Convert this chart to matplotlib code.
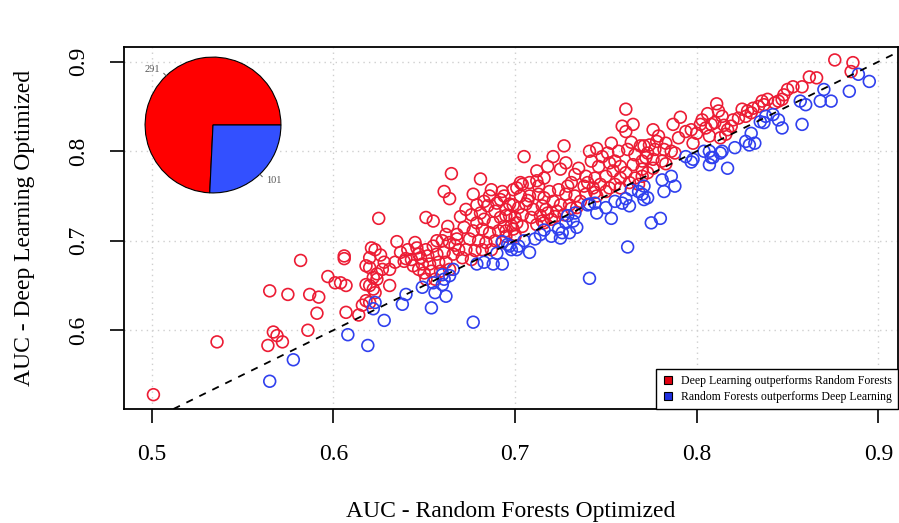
import matplotlib
matplotlib.use("Agg")
import matplotlib.pyplot as plt
from matplotlib.lines import Line2D
import numpy as np

# (AUC Random Forests, AUC Deep Learning) pairs where Deep Learning wins
red_auc = [
    (0.501, 0.528), (0.536, 0.587), (0.565, 0.644), (0.567, 0.598), (0.569, 0.594),
    (0.572, 0.587), (0.564, 0.583), (0.575, 0.640), (0.582, 0.678), (0.587, 0.640),
    (0.592, 0.637), (0.591, 0.619), (0.586, 0.600), (0.597, 0.660), (0.601, 0.653),
    (0.604, 0.653), (0.607, 0.650), (0.606, 0.683), (0.606, 0.680), (0.607, 0.620),
    (0.614, 0.617), (0.625, 0.725),
    (0.621, 0.692), (0.620, 0.681), (0.618, 0.672), (0.620, 0.670), (0.624, 0.663),
    (0.622, 0.659), (0.618, 0.651), (0.620, 0.650), (0.623, 0.642), (0.618, 0.633),
    (0.620, 0.631), (0.631, 0.668), (0.631, 0.650), (0.616, 0.628), (0.623, 0.690),
    (0.624, 0.657), (0.622, 0.646), (0.635, 0.699), (0.626, 0.684), (0.628, 0.676),
    (0.637, 0.687), (0.641, 0.690), (0.646, 0.692), (0.651, 0.690), (0.655, 0.694),
    (0.660, 0.700), (0.664, 0.698), (0.639, 0.677), (0.643, 0.679), (0.648, 0.681),
    (0.652, 0.683), (0.657, 0.685), (0.661, 0.687), (0.666, 0.685), (0.644, 0.672),
    (0.649, 0.674), (0.653, 0.674), (0.658, 0.676), (0.662, 0.676), (0.650, 0.664),
    (0.654, 0.666), (0.659, 0.666), (0.664, 0.668), (0.651, 0.657), (0.656, 0.657),
    (0.651, 0.726), (0.655, 0.722), (0.663, 0.716), (0.661, 0.755), (0.664, 0.747),
    (0.665, 0.775), (0.645, 0.698), (0.668, 0.707), (0.667, 0.695), (0.647, 0.668),
    (0.673, 0.735), (0.676, 0.729), (0.681, 0.731), (0.685, 0.739), (0.690, 0.742),
    (0.695, 0.735), (0.699, 0.740), (0.683, 0.724), (0.688, 0.720), (0.692, 0.726),
    (0.697, 0.728), (0.701, 0.720), (0.672, 0.715), (0.677, 0.711), (0.682, 0.713),
    (0.686, 0.709), (0.691, 0.711), (0.695, 0.711), (0.700, 0.707), (0.675, 0.702),
    (0.680, 0.700), (0.684, 0.698), (0.689, 0.700), (0.693, 0.698), (0.673, 0.690),
    (0.678, 0.689), (0.682, 0.690), (0.687, 0.690), (0.671, 0.681), (0.676, 0.679),
    (0.668, 0.702), (0.669, 0.690),
    (0.686, 0.750), (0.692, 0.746), (0.687, 0.757), (0.693, 0.755), (0.701, 0.759),
    (0.703, 0.765), (0.681, 0.769), (0.677, 0.752), (0.683, 0.744), (0.670, 0.727),
    (0.679, 0.720), (0.698, 0.717),
    (0.694, 0.750), (0.699, 0.757), (0.704, 0.763), (0.708, 0.765), (0.713, 0.761),
    (0.703, 0.750), (0.708, 0.750), (0.713, 0.752), (0.697, 0.741), (0.702, 0.737),
    (0.706, 0.741), (0.710, 0.735), (0.715, 0.739), (0.695, 0.728), (0.700, 0.726),
    (0.704, 0.729), (0.709, 0.726), (0.714, 0.728), (0.694, 0.716), (0.699, 0.713),
    (0.704, 0.716), (0.712, 0.718), (0.716, 0.720), (0.695, 0.705), (0.700, 0.705),
    (0.705, 0.794), (0.712, 0.778), (0.712, 0.767), (0.721, 0.794),
    (0.719, 0.755), (0.724, 0.757), (0.728, 0.752), (0.733, 0.750), (0.736, 0.744),
    (0.721, 0.744), (0.725, 0.740), (0.730, 0.740), (0.734, 0.737), (0.717, 0.735),
    (0.718, 0.731), (0.723, 0.733), (0.727, 0.729), (0.731, 0.736), (0.715, 0.722),
    (0.720, 0.724), (0.722, 0.727),
    (0.728, 0.787), (0.725, 0.780), (0.733, 0.774), (0.742, 0.789), (0.746, 0.783),
    (0.752, 0.787), (0.755, 0.789), (0.758, 0.783), (0.754, 0.778), (0.750, 0.772),
    (0.761, 0.776), (0.766, 0.796), (0.770, 0.789), (0.771, 0.806), (0.761, 0.822),
    (0.739, 0.772), (0.744, 0.770), (0.738, 0.761), (0.743, 0.759), (0.747, 0.763),
    (0.752, 0.759), (0.755, 0.763), (0.758, 0.759), (0.763, 0.765), (0.766, 0.770),
    (0.768, 0.763), (0.770, 0.772), (0.739, 0.752), (0.744, 0.754), (0.750, 0.755),
    (0.727, 0.806), (0.751, 0.798), (0.753, 0.809), (0.762, 0.802), (0.764, 0.810),
    (0.769, 0.806), (0.773, 0.798), (0.777, 0.802), (0.779, 0.817), (0.788, 0.798),
    (0.798, 0.809), (0.807, 0.817), (0.741, 0.800),
    (0.761, 0.847), (0.759, 0.828), (0.765, 0.830), (0.776, 0.824), (0.787, 0.830),
    (0.791, 0.838), (0.797, 0.824), (0.802, 0.830), (0.803, 0.835),
    (0.811, 0.853), (0.812, 0.845), (0.814, 0.839), (0.816, 0.819), (0.817, 0.824),
    (0.819, 0.828), (0.820, 0.835), (0.823, 0.837), (0.827, 0.839), (0.825, 0.847),
    (0.828, 0.845), (0.831, 0.848), (0.834, 0.850), (0.836, 0.856), (0.839, 0.858),
    (0.845, 0.856), (0.847, 0.858), (0.848, 0.863), (0.850, 0.869), (0.853, 0.872),
    (0.858, 0.872), (0.862, 0.883), (0.866, 0.882), (0.876, 0.902), (0.886, 0.899),
    (0.885, 0.889),
    (0.806, 0.842), (0.810, 0.832), (0.815, 0.829), (0.830, 0.843), (0.837, 0.852),
    (0.843, 0.854), (0.813, 0.815),
    (0.774, 0.807), (0.778, 0.811), (0.783, 0.809), (0.782, 0.802), (0.786, 0.800),
    (0.772, 0.793), (0.776, 0.791), (0.781, 0.789), (0.783, 0.786), (0.770, 0.780),
    (0.776, 0.781), (0.773, 0.776),
    (0.716, 0.770), (0.718, 0.783), (0.731, 0.765), (0.735, 0.781), (0.748, 0.794),
    (0.757, 0.800), (0.745, 0.803), (0.790, 0.815), (0.794, 0.822), (0.800, 0.820),
    (0.805, 0.826), (0.808, 0.830), (0.765, 0.785), (0.758, 0.770), (0.740, 0.765),
    (0.729, 0.761), (0.707, 0.745), (0.689, 0.733), (0.679, 0.740), (0.662, 0.707),
    (0.657, 0.700), (0.647, 0.685), (0.640, 0.680), (0.634, 0.676), (0.627, 0.668),
    (0.716, 0.748), (0.745, 0.750),
]

# pairs where Random Forests wins
blue_auc = [
    (0.565, 0.543), (0.578, 0.567), (0.608, 0.595), (0.619, 0.583), (0.622, 0.624),
    (0.628, 0.611), (0.638, 0.629), (0.640, 0.640), (0.654, 0.625), (0.656, 0.642),
    (0.662, 0.638), (0.660, 0.651), (0.655, 0.653), (0.661, 0.657), (0.664, 0.661),
    (0.666, 0.668), (0.660, 0.662), (0.677, 0.609), (0.679, 0.674), (0.683, 0.676),
    (0.688, 0.674), (0.693, 0.674), (0.697, 0.694), (0.701, 0.690), (0.693, 0.699),
    (0.696, 0.696), (0.698, 0.690), (0.708, 0.687), (0.711, 0.702), (0.714, 0.707),
    (0.720, 0.705), (0.725, 0.703), (0.730, 0.709), (0.732, 0.722), (0.734, 0.715),
    (0.728, 0.720), (0.724, 0.713), (0.733, 0.731), (0.741, 0.658), (0.741, 0.741),
    (0.745, 0.731), (0.750, 0.737), (0.753, 0.725), (0.755, 0.744), (0.759, 0.742),
    (0.763, 0.739), (0.761, 0.747), (0.764, 0.757), (0.768, 0.755), (0.771, 0.746),
    (0.762, 0.693), (0.775, 0.720), (0.780, 0.725), (0.771, 0.761), (0.770, 0.752),
    (0.773, 0.748), (0.781, 0.768), (0.786, 0.772), (0.788, 0.761), (0.782, 0.755),
    (0.794, 0.794), (0.798, 0.791), (0.804, 0.800), (0.807, 0.800), (0.809, 0.793),
    (0.807, 0.785), (0.814, 0.800), (0.821, 0.804), (0.817, 0.781), (0.827, 0.811),
    (0.830, 0.820), (0.829, 0.807), (0.832, 0.809), (0.835, 0.833), (0.838, 0.839),
    (0.842, 0.841), (0.845, 0.835), (0.847, 0.826), (0.837, 0.832), (0.858, 0.830),
    (0.857, 0.856), (0.860, 0.852), (0.868, 0.856), (0.874, 0.856), (0.870, 0.869),
    (0.884, 0.867), (0.889, 0.886), (0.895, 0.878), (0.726, 0.709), (0.729, 0.728),
    (0.740, 0.740), (0.744, 0.742), (0.702, 0.694), (0.705, 0.700), (0.716, 0.712),
    (0.797, 0.788), (0.813, 0.798), (0.808, 0.793), (0.690, 0.686), (0.623, 0.631),
    (0.649, 0.648),
]

pie_counts = [291, 101]
pie_labels = ["291", "101"]
x_ticks = [0.5, 0.6, 0.7, 0.8, 0.9]
y_ticks = [0.6, 0.7, 0.8, 0.9]
legend_labels = ["Deep Learning outperforms Random Forests",
                 "Random Forests outperforms Deep Learning"]

RED = "#EC1C34"
BLUE = "#3040EE"

plt.rcParams["font.family"] = ["Liberation Serif", "DejaVu Serif"]

W, H = 899, 523
fig = plt.figure(figsize=(W / 100, H / 100), dpi=100)
ax = fig.add_axes([124 / W, 1 - 409 / H, (898 - 124) / W, (409 - 46.7) / H])
ax.set_xlim(0.4848, 0.9108)
ax.set_ylim(0.512, 0.9168)

grid_kw = dict(color="#cfcfcf", lw=1.0, ls=(0, (1, 3)), zorder=0)
for v in x_ticks:
    ax.axvline(v, **grid_kw)
for v in y_ticks:
    ax.axhline(v, **grid_kw)

rx, ry = zip(*red_auc)
bx, by = zip(*blue_auc)
ax.scatter(rx, ry, s=72, facecolors="none", edgecolors=RED, linewidths=1.2, zorder=2)
ax.scatter(bx, by, s=72, facecolors="none", edgecolors=BLUE, linewidths=1.2, zorder=2)
ax.axline((0.5, 0.5), slope=1, color="black", lw=1.3, ls=(0, (4, 4)), zorder=3)

ax.set_xticks(x_ticks)
ax.set_xticklabels([f"{v:.1f}" for v in x_ticks])
ax.set_yticks(y_ticks)
ax.set_yticklabels([f"{v:.1f}" for v in y_ticks])
ax.tick_params(length=10, width=1.2, labelsize=17, pad=15, colors="black")
ax.tick_params(axis="y", labelrotation=90)
for lbl in ax.get_yticklabels():
    lbl.set_va("center")
for sp in ax.spines.values():
    sp.set_linewidth(1.3)

fig.text(511 / W, 1 - 511 / H, "AUC - Random Forests Optimized",
         ha="center", va="center", fontsize=17)
fig.text(25 / W, 1 - 228 / H, "AUC - Deep Learning Optimized",
         ha="center", va="center", rotation=90, fontsize=17)

handles = [Line2D([], [], ls="none", marker="s", markersize=6,
                  markerfacecolor="#E00010", markeredgecolor="black", markeredgewidth=0.8),
           Line2D([], [], ls="none", marker="s", markersize=6,
                  markerfacecolor="#2030E0", markeredgecolor="black", markeredgewidth=0.8)]
leg = ax.legend(handles, legend_labels, loc="lower right", bbox_to_anchor=(1.0, 0.0),
                borderaxespad=0, fontsize=8.5, frameon=True, fancybox=False,
                edgecolor="black", framealpha=1, handlelength=1.0, handletextpad=0.6,
                borderpad=0.5, labelspacing=0.35)
leg.get_frame().set_linewidth(1.0)
leg.set_zorder(5)

# pie inset
ax_in = fig.add_axes([141 / W, 1 - 197 / H, 144 / W, 144 / H])
ax_in.set_facecolor("white")
for sp in ax_in.spines.values():
    sp.set_visible(False)
ax_in.set_xticks([])
ax_in.set_yticks([])
ax_in.pie(pie_counts, colors=["#FF0000", "#3350FF"], startangle=0, counterclock=True,
          radius=1.0, wedgeprops=dict(edgecolor="black", linewidth=0.8))
total = sum(pie_counts)
start = 0.0
for cnt, lab in zip(pie_counts, pie_labels):
    mid = np.deg2rad(start + 360.0 * cnt / total / 2)
    ax_in.plot([np.cos(mid), 1.05 * np.cos(mid)], [np.sin(mid), 1.05 * np.sin(mid)],
               color="#555555", lw=0.7)
    ax_in.text(1.13 * np.cos(mid), 1.13 * np.sin(mid), lab, fontsize=7.5, color="#555555",
               ha="right" if np.cos(mid) < 0 else "left", va="center")
    start += 360.0 * cnt / total
ax_in.set_xlim(-1.06, 1.06)
ax_in.set_ylim(-1.06, 1.06)
ax_in.set_aspect("equal")

fig.savefig("out.png", dpi=100)
